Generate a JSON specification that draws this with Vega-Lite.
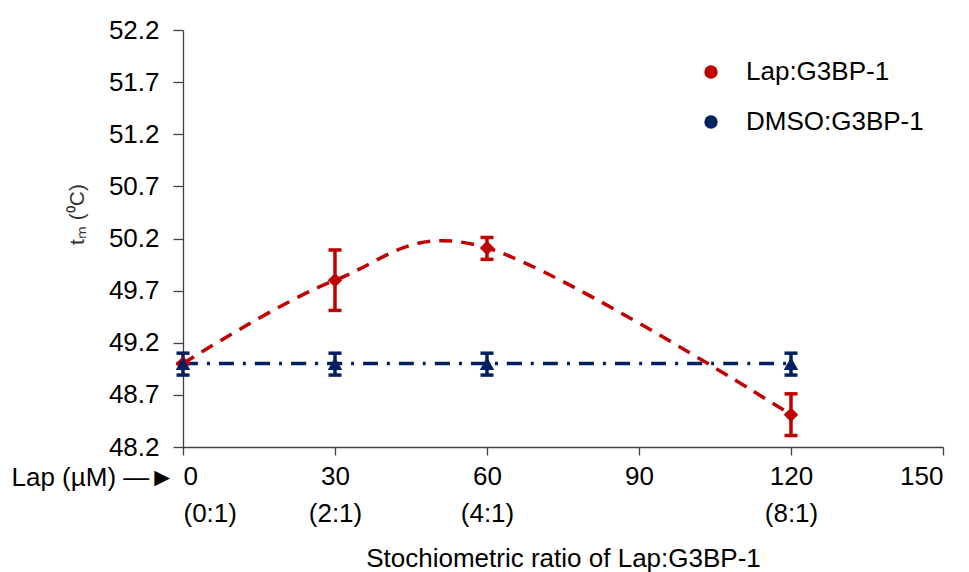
{
  "$schema": "https://vega.github.io/schema/vega-lite/v6.json",
  "width": 760,
  "height": 417,
  "autosize": {"type": "none"},
  "padding": {"left": 183, "top": 30, "right": 26, "bottom": 125},
  "background": "white",
  "config": {
    "font": "Liberation Sans",
    "view": {"stroke": null},
    "axis": {"grid": false, "domainColor": "#404040", "tickColor": "#404040", "domainWidth": 1.3, "tickWidth": 1.3, "labelColor": "#000000", "labelFontSize": 26, "titleFontWeight": "normal", "titleColor": "#000000"}
  },
  "data": {
    "values": [
      {"series": "Lap:G3BP-1", "x": 0, "y": 49.0, "lo": 49.0, "hi": 49.0},
      {"series": "Lap:G3BP-1", "x": 30, "y": 49.8, "lo": 49.51, "hi": 50.09},
      {"series": "Lap:G3BP-1", "x": 60, "y": 50.11, "lo": 50.0, "hi": 50.21},
      {"series": "Lap:G3BP-1", "x": 120, "y": 48.51, "lo": 48.31, "hi": 48.71},
      {"series": "DMSO:G3BP-1", "x": 0, "y": 49.0, "lo": 48.89, "hi": 49.1},
      {"series": "DMSO:G3BP-1", "x": 30, "y": 49.0, "lo": 48.89, "hi": 49.1},
      {"series": "DMSO:G3BP-1", "x": 60, "y": 49.0, "lo": 48.89, "hi": 49.1},
      {"series": "DMSO:G3BP-1", "x": 120, "y": 49.0, "lo": 48.89, "hi": 49.1}
    ]
  },
  "encoding": {
    "x": {
      "field": "x", "type": "quantitative",
      "scale": {"domain": [0, 150], "nice": false, "zero": false},
      "axis": {
        "values": [0, 30, 60, 90, 120, 150],
        "tickSize": 8,
        "labelPadding": 8,
        "labelLineHeight": 37,
        "labelBaseline": "top",
        "labelExpr": "datum.value == 0 ? ['0', '(0:1)'] : datum.value == 30 ? ['30', '(2:1)'] : datum.value == 60 ? ['60', '(4:1)'] : datum.value == 120 ? ['120', '(8:1)'] : [datum.label, '']",
        "title": "Stochiometric ratio of Lap:G3BP-1",
        "titleFontSize": 26,
        "titlePadding": 19
      }
    },
    "y": {
      "field": "y", "type": "quantitative",
      "scale": {"domain": [48.2, 52.2], "nice": false, "zero": false},
      "axis": {
        "values": [48.2, 48.7, 49.2, 49.7, 50.2, 50.7, 51.2, 51.7, 52.2],
        "format": ".1f",
        "tickSize": 10,
        "labelPadding": 14,
        "title": "tₘ (⁰C)",
        "titleFontSize": 21,
        "titleColor": "#333333",
        "titleAngle": -90,
        "titleBaseline": "middle",
        "titleAlign": "center",
        "titleX": -106,
        "titleY": 184
      }
    }
  },
  "layer": [
    {
      "mark": {"type": "line", "interpolate": "cardinal", "strokeWidth": 3.5},
      "encoding": {
        "color": {"field": "series", "type": "nominal", "scale": {"domain": ["DMSO:G3BP-1", "Lap:G3BP-1"], "range": ["#002060", "#C00000"]}, "legend": null},
        "strokeDash": {"field": "series", "type": "nominal", "scale": {"domain": ["DMSO:G3BP-1", "Lap:G3BP-1"], "range": [[15, 9, 3, 9], [13, 9]]}, "legend": null}
      }
    },
    {
      "mark": {"type": "rule", "strokeWidth": 3.5, "opacity": 1},
      "encoding": {
        "y": {"field": "lo", "type": "quantitative"},
        "y2": {"field": "hi"},
        "color": {"field": "series", "type": "nominal", "legend": null}
      }
    },
    {
      "mark": {"type": "tick", "orient": "horizontal", "size": 13, "thickness": 3.5, "opacity": 1},
      "encoding": {
        "y": {"field": "lo", "type": "quantitative"},
        "color": {"field": "series", "type": "nominal", "legend": null}
      }
    },
    {
      "mark": {"type": "tick", "orient": "horizontal", "size": 13, "thickness": 3.5, "opacity": 1},
      "encoding": {
        "y": {"field": "hi", "type": "quantitative"},
        "color": {"field": "series", "type": "nominal", "legend": null}
      }
    },
    {
      "mark": {"type": "point", "filled": true, "size": 210, "opacity": 1, "strokeWidth": 0},
      "encoding": {
        "shape": {"field": "series", "type": "nominal", "scale": {"domain": ["DMSO:G3BP-1", "Lap:G3BP-1"], "range": ["triangle-up", "diamond"]}, "legend": null},
        "fill": {
          "field": "series", "type": "nominal",
          "scale": {"domain": ["Lap:G3BP-1", "DMSO:G3BP-1"], "range": ["#C00000", "#002060"]},
          "legend": {
            "title": null,
            "orient": "none",
            "legendX": 515,
            "legendY": 29,
            "symbolSize": 180,
            "symbolStrokeWidth": 0,
            "labelOffset": 22,
            "labelFontSize": 26,
            "labelColor": "#000000",
            "labelLimit": 300,
            "rowPadding": 24,
            "padding": 0,
            "encode": {
              "symbols": {
                "shape": {"value": {"expr": "datum.value === 'Lap:G3BP-1' ? 'diamond' : 'triangle-up'"}},
                "strokeWidth": {"value": 0},
                "opacity": {"value": 1}
              }
            }
          }
        }
      }
    },
    {
      "data": {"values": [{"x": 0, "y": 48.2, "label": "Lap (µM) —►"}]},
      "mark": {"type": "text", "align": "right", "baseline": "middle", "dx": -8, "dy": 31, "fontSize": 26, "color": "#000000"},
      "encoding": {
        "text": {"field": "label"}
      }
    }
  ]
}
